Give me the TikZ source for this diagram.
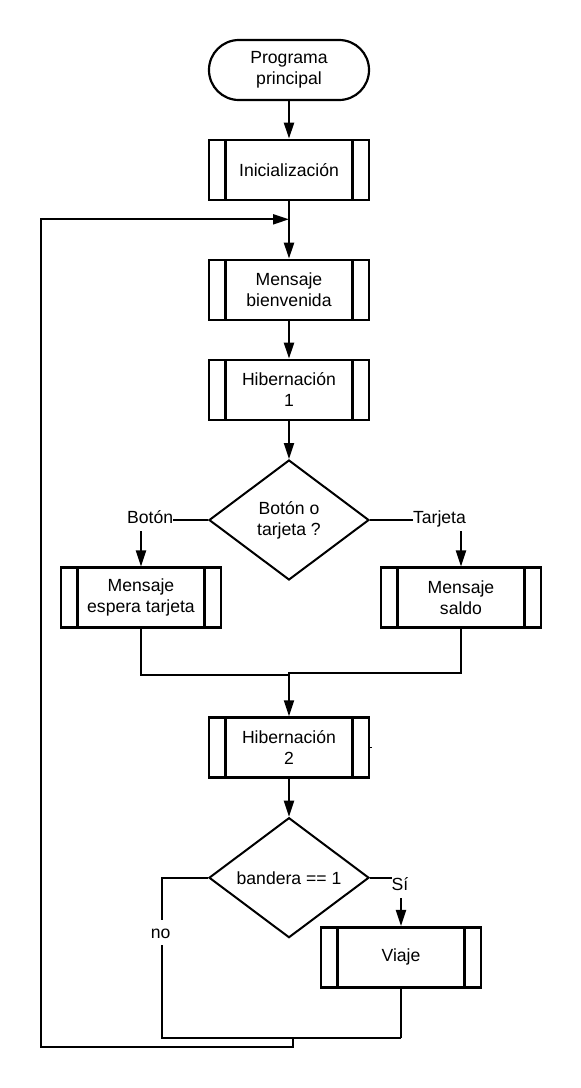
\documentclass[tikz,border=0pt]{standalone}
\usepackage{fontspec}
\setmainfont{Liberation Sans}
\usetikzlibrary{shapes.geometric,arrows.meta}
\begin{document}
\begin{tikzpicture}[x=1pt,y=-1pt,
  every node/.style={font=\fontsize{17.6}{21}\selectfont},
  term/.style={draw, line width=2.2pt, rounded corners=29.9pt, minimum width=160pt, minimum height=60pt, inner sep=0pt, align=center},
  proc/.style={draw, line width=2.7pt, minimum width=160pt, minimum height=60pt, inner sep=0pt, align=center,
    path picture={
      \draw[line width=2.7pt] ([xshift=16.5pt]path picture bounding box.north west) -- ([xshift=16.5pt]path picture bounding box.south west);
      \draw[line width=2.7pt] ([xshift=-16.5pt]path picture bounding box.north east) -- ([xshift=-16.5pt]path picture bounding box.south east);
    }},
  dec/.style={draw, shape=diamond, line width=2pt, minimum width=160pt, minimum height=120pt, aspect=1.333, inner sep=0pt, align=center},
  conn/.style={line width=2pt},
  arr/.style={conn, -{Triangle[length=16pt,width=10pt]}},
  lbl/.style={fill=white, inner xsep=0pt, inner ysep=0pt, text height=12.6pt, text depth=0pt}
]
\fill[white] (0,0) rectangle (581,1088);
\useasboundingbox (0,0) rectangle (581,1088);

% nodes
\node[term] (start) at (289,70) {Programa\\principal};
\node[proc] (init) at (289,170) {Inicialización};
\node[proc] (bien) at (289,290) {Mensaje\\bienvenida};
\node[proc] (hib1) at (289,390) {Hibernación\\1};
\node[dec] (d1) at (289,520) {Botón o\\tarjeta ?};
\node[proc] (espera) at (141,597.8) {Mensaje\\espera tarjeta};
\node[proc] (saldo) at (461,597.8) {Mensaje\\saldo};
\node[proc] (hib2) at (289,747.7) {Hibernación\\2};
\node[dec] (d2) at (289,877.7) {bandera == 1};
\node[proc] (viaje) at (401,957.3) {Viaje};

% helper coordinates
\coordinate (join) at (289,219.3);
\coordinate (mL) at (289,675);
\coordinate (mR) at (289,672.7);
\coordinate (noC) at (161.7,1038.3);
\coordinate (viC) at (401,1038.3);
\coordinate (lpA) at (293.3,1038.3);
\coordinate (lpB) at (293.3,1047.3);
\coordinate (lpC) at (41,1047.3);
\coordinate (lpD) at (41,219.3);

% connectors
\draw[arr] (start.south) -- (init.north);
\draw[arr] (init.south) -- (bien.north);
\draw[arr] (bien.south) -- (hib1.north);
\draw[arr] (hib1.south) -- (d1.north);
\draw[arr] (d1.west) -| (espera.north);
\draw[arr] (d1.east) -| (saldo.north);
\draw[conn] (espera.south) |- (mL);
\draw[arr] (saldo.south) |- (mR) -- (hib2.north);
\draw[arr] (hib2.south) -- (d2.north);
\draw[arr] (d2.east) -| (viaje.north);
\draw[conn] (d2.west) -| (noC) -- (viC);
\draw[conn] (viaje.south) -- (viC);
\draw[arr] (lpA) -- (lpB) -- (lpC) -- (lpD) -- (join);
\draw[line width=1.3pt] ([xshift=-1pt]hib2.east) -- ++(3,0);

% labels
\node[lbl, minimum height=27.4pt] (lbB) at (150.2,517) {Botón};
\node[lbl, minimum height=28pt] (lbT) at (439.5,516.7) {Tarjeta};
\node[lbl, minimum height=29.2pt] (lbS) at (400,883.7) {Sí};
\node[lbl, minimum height=25pt] (lbN) at (160.7,932.5) {no};
\end{tikzpicture}
\end{document}
